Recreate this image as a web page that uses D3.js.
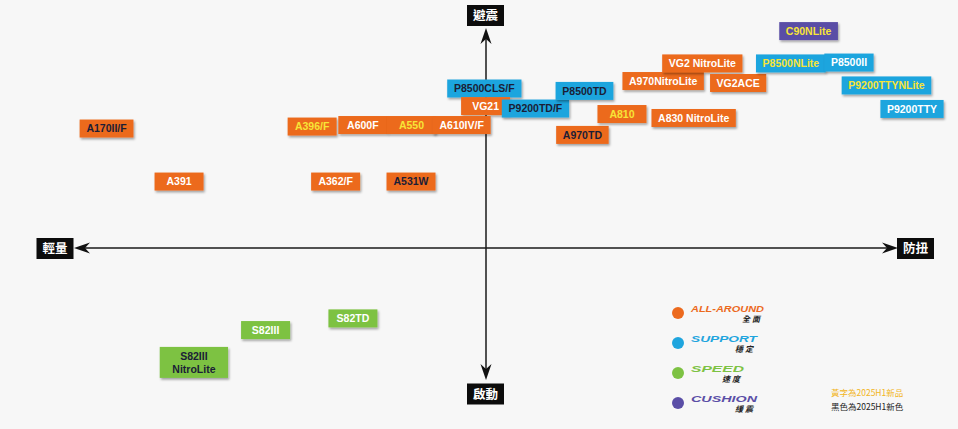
<!DOCTYPE html>
<html>
<head>
<meta charset="utf-8">
<script src="https://cdn.jsdelivr.net/npm/d3@7"></script>
<style>
  html, body { margin: 0; padding: 0; background: #f7f7f7; }
  svg { display: block; }
</style>
</head>
<body>
<svg id="chart"></svg>
<script>
'use strict';

const WIDTH = 958;
const HEIGHT = 429;

// product positions: x = 防扭 (stability), y = 避震 (cushioning)
const MODELS = ["P8500CLS/F", "VG21", "P9200TD/F", "P8500TD", "A170II/F", "A396/F", "A600F", "A550", "A610IV/F",
  "A391", "A362/F", "A531W", "A970TD", "A810", "A830 NitroLite", "A970NitroLite", "VG2 NitroLite", "VG2ACE",
  "C90NLite", "P8500NLite", "P8500II", "P9200TTYNLite", "P9200TTY", "S82III", "S82TD", "S82III\nNitroLite"];
const STABILITY = [-0.04, -0.01, 1.20, 2.39, -9.21, -4.22, -2.99, -1.81, -0.59,
  -7.45, -3.65, -1.82, 2.34, 3.30, 5.04, 4.30, 5.25, 6.12,
  7.83, 7.40, 8.81, 9.72, 10.34, -5.35, -3.23, -7.09];
const CUSHION = [7.25, 6.45, 6.34, 7.14, 5.43, 5.52, 5.59, 5.59, 5.59,
  3.02, 3.02, 3.02, 5.14, 6.09, 5.91, 7.59, 8.39, 7.50,
  9.86, 8.39, 8.43, 7.39, 6.32, -3.73, -3.20, -5.20];
const CATEGORY = ["support", "allround", "support", "support", "allround", "allround", "allround", "allround", "allround",
  "allround", "allround", "allround", "allround", "allround", "allround", "allround", "allround", "allround",
  "cushion", "support", "support", "support", "support", "speed", "speed", "speed"];
// "new" = 2025H1 new model (yellow text), "color" = 2025H1 new colour (black text)
const STATUS = ["color", "", "color", "color", "color", "new", "", "new", "",
  "", "", "color", "color", "new", "", "", "", "",
  "new", "new", "", "new", "", "", "", "color"];

const CATEGORIES = ["allround", "support", "speed", "cushion"];
const CATEGORY_NAMES = ["ALL-AROUND", "SUPPORT", "SPEED", "CUSHION"];
const CATEGORY_ZH = ["全面", "穩定", "速度", "緩震"];
const CATEGORY_COLORS = ["#ec6a1e", "#1fa5de", "#7dc243", "#5a4ea6"];

const AXIS_LABELS = { left: "輕量", right: "防扭", top: "避震", bottom: "啟動" };
const NOTES = ["黃字為2025H1新品", "黑色為2025H1新色"];

const TEXT_COLORS = { "new": "#f7e437", "color": "#1b1d36", "": "#ffffff" };
const LABEL_FONT = "'Liberation Sans', Arial, sans-serif";
const CJK_FONT = "'Noto Sans CJK TC', 'Noto Sans CJK SC', sans-serif";

const data = MODELS.map((name, i) => ({
  name, x: STABILITY[i], y: CUSHION[i], cat: CATEGORY[i], status: STATUS[i]
}));

const xScale = d3.scaleLinear().domain([-10, 10]).range([74, 898]);
const yScale = d3.scaleLinear().domain([-6, 10]).range([380, 28]);
const colorScale = d3.scaleOrdinal().domain(CATEGORIES).range(CATEGORY_COLORS);

const svg = d3.select("#chart").attr("width", WIDTH).attr("height", HEIGHT);

svg.append("rect").attr("width", WIDTH).attr("height", HEIGHT).attr("fill", "#f7f7f7");

const defs = svg.append("defs");
defs.append("filter").attr("id", "shadow").attr("x", "-20%").attr("y", "-30%").attr("width", "150%").attr("height", "180%")
  .append("feDropShadow")
  .attr("dx", 1.2).attr("dy", 1.8).attr("stdDeviation", 1.1)
  .attr("flood-color", "#000").attr("flood-opacity", 0.35);

//axes
const x0 = xScale(0), y0 = yScale(0);
const axLeft = xScale.range()[0], axRight = xScale.range()[1];
const axTop = yScale.range()[1], axBottom = yScale.range()[0];
const axes = svg.append("g").attr("id", "axes");

axes.append("line").attr("x1", axLeft + 4).attr("x2", axRight - 4).attr("y1", y0).attr("y2", y0)
  .attr("stroke", "#1a1a1a").attr("stroke-width", 1.5);
axes.append("line").attr("x1", x0).attr("x2", x0).attr("y1", axTop + 4).attr("y2", axBottom - 4)
  .attr("stroke", "#1a1a1a").attr("stroke-width", 1.5);

const arrow = (tx, ty, angle) => {
  axes.append("path")
    .attr("d", "M0,0 L-16,-5.5 L-11,0 L-16,5.5 Z")
    .attr("transform", `translate(${tx},${ty}) rotate(${angle})`)
    .attr("fill", "#111");
};
arrow(axRight, y0, 0);
arrow(axLeft, y0, 180);
arrow(x0, axTop, -90);
arrow(x0, axBottom, 90);

const axisLabel = (cx, cy, text) => {
  const g = axes.append("g").attr("transform", `translate(${cx},${cy})`);
  g.append("rect").attr("x", -18.5).attr("y", -10.5).attr("width", 37).attr("height", 21).attr("fill", "#0c0c0c");
  g.append("text").attr("text-anchor", "middle").attr("dy", "0.36em")
    .attr("font-family", CJK_FONT).attr("font-size", 12.5).attr("font-weight", 700)
    .attr("fill", "#fff").text(text);
};
axisLabel(axLeft - 19, y0 + 0.5, AXIS_LABELS.left);
axisLabel(axRight + 17.5, y0 + 0.5, AXIS_LABELS.right);
axisLabel(x0 - 0.5, axTop - 12.5, AXIS_LABELS.top);
axisLabel(x0 - 0.5, axBottom + 14, AXIS_LABELS.bottom);

// product boxes
const boxes = svg.append("g").attr("id", "boxes").selectAll("g")
  .data(data)
  .enter()
  .append("g")
  .attr("transform", d => `translate(${xScale(d.x)},${yScale(d.y)})`);

boxes.each(function (d) {
  const g = d3.select(this);
  const lines = d.name.split("\n");
  const rect = g.append("rect").attr("fill", colorScale(d.cat)).attr("filter", "url(#shadow)");
  const text = g.append("text")
    .attr("text-anchor", "middle")
    .attr("font-family", LABEL_FONT)
    .attr("font-weight", 700)
    .attr("font-size", 10.5)
    .attr("fill", TEXT_COLORS[d.status]);
  const lineH = 13;
  lines.forEach((l, i) => {
    text.append("tspan").attr("x", 0)
      .attr("y", (i - (lines.length - 1) / 2) * lineH)
      .attr("dy", "0.36em").text(l);
  });
  const textW = text.node().getBBox().width;
  const w = Math.max(textW + (lines.length > 1 ? 25 : 13), 49);
  const h = lines.length > 1 ? 31 : 18;
  rect.attr("x", -w / 2).attr("y", -h / 2).attr("width", w).attr("height", h);
});

// legend
const legendY = d3.scalePoint().domain(CATEGORIES).range([313, 403]);
const legend = svg.append("g").attr("id", "legend");
CATEGORIES.forEach((c, i) => {
  const y = legendY(c);
  legend.append("circle").attr("cx", 678).attr("cy", y).attr("r", 6).attr("fill", CATEGORY_COLORS[i]);
  const nameW = [73, 66, 53, 66][i];
  legend.append("text").attr("x", 691).attr("y", y - 1)
    .attr("font-family", LABEL_FONT).attr("font-weight", 700).attr("font-style", "italic")
    .attr("font-size", 9.5).attr("textLength", nameW).attr("lengthAdjust", "spacingAndGlyphs")
    .attr("fill", CATEGORY_COLORS[i]).text(CATEGORY_NAMES[i]);
  legend.append("text").attr("x", 691 + nameW - 2).attr("y", y + 9)
    .attr("text-anchor", "end")
    .attr("font-family", CJK_FONT).attr("font-weight", 700).attr("font-style", "italic")
    .attr("font-size", 8).attr("letter-spacing", 2).attr("fill", "#222").text(CATEGORY_ZH[i]);
});

// notes
const notes = svg.append("g").attr("id", "notes");
notes.append("text").attr("x", 831).attr("y", 396)
  .attr("font-family", CJK_FONT).attr("font-size", 8.5).attr("fill", "#f2b51c").text(NOTES[0]);
notes.append("text").attr("x", 831).attr("y", 410)
  .attr("font-family", CJK_FONT).attr("font-size", 8.5).attr("fill", "#222").text(NOTES[1]);
</script>
</body>
</html>
